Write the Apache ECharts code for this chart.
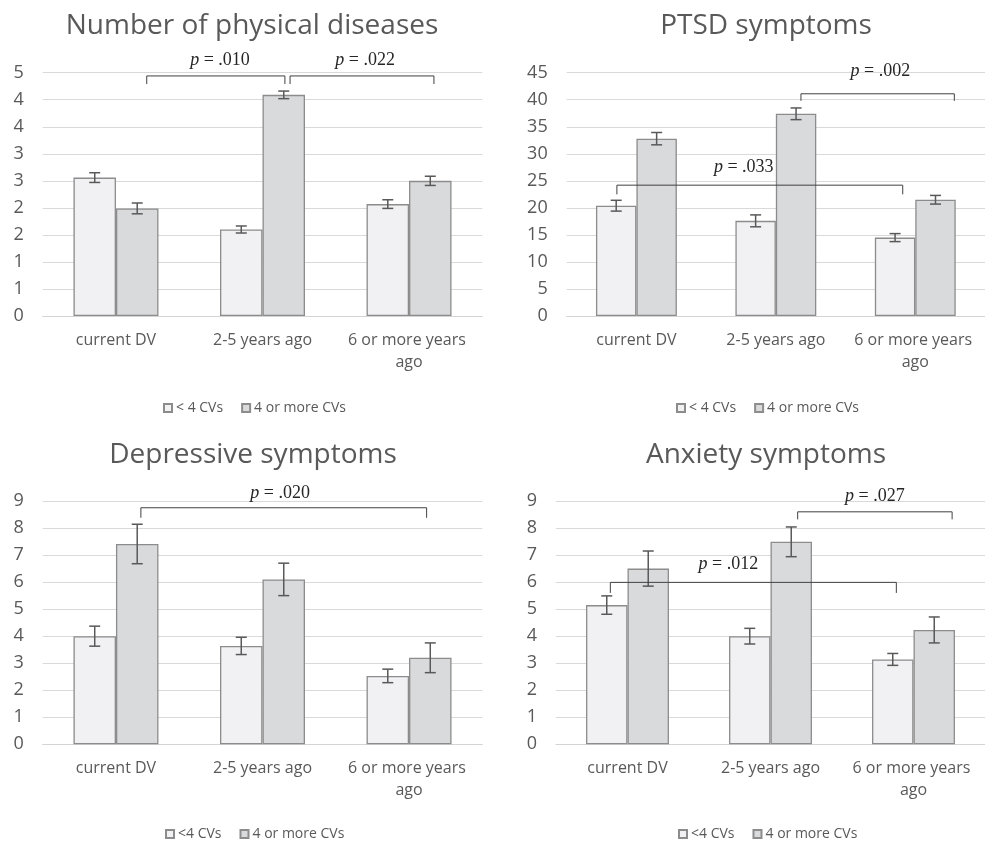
<!DOCTYPE html>
<html>
<head>
<meta charset="utf-8">
<script src="https://cdn.jsdelivr.net/npm/echarts@6/dist/echarts.min.js"></script>
<style>
html,body{margin:0;padding:0;background:#fff;}
#c{width:985px;height:843px;}
</style>
</head>
<body>
<div id="c"></div>
<script>
// ---- data ----
const categories = ['current DV', '2-5 years ago', '6 or more years ago'];

const physLow = [2.56, 1.60, 2.07];
const physLowErr = [0.09, 0.065, 0.08];
const physHigh = [1.99, 4.09, 2.50];
const physHighErr = [0.10, 0.07, 0.085];
const physTicks = ['0', '1', '1', '2', '2', '3', '3', '4', '4', '5'];

const ptsdLow = [20.4, 17.6, 14.5];
const ptsdLowErr = [1.0, 1.1, 0.74];
const ptsdHigh = [32.8, 37.4, 21.5];
const ptsdHighErr = [1.14, 1.08, 0.8];

const depLow = [4.0, 3.64, 2.53];
const depLowErr = [0.37, 0.32, 0.25];
const depHigh = [7.41, 6.1, 3.2];
const depHighErr = [0.73, 0.6, 0.55];

const anxLow = [5.15, 4.0, 3.14];
const anxLowErr = [0.34, 0.29, 0.22];
const anxHigh = [6.5, 7.49, 4.23];
const anxHighErr = [0.65, 0.55, 0.48];

// brackets: [x1, x2, yTop, yEnd, pText, textX, textY]  (x in category units)
const physBrackets = [[0.21, 1.153, 4.44, 4.29, '.010', 0.71, 4.73], [1.188, 2.17, 4.44, 4.29, '.022', 1.70, 4.73]];
const ptsdBrackets = [[1.18, 2.28, 41.1, 39.8, '.002', 1.75, 45.2], [-0.14, 1.91, 24.2, 22.5, '.033', 0.77, 27.6]];
const depBrackets = [[0.17, 2.12, 8.75, 8.38, '.020', 1.12, 9.3]];
const anxBrackets = [[1.19, 2.27, 8.6, 8.32, '.027', 1.73, 9.18], [-0.12, 1.88, 5.99, 5.6, '.012', 0.705, 6.66]];

// ---- layout ----
const panels = [
  {title: 'Number of physical diseases', tx: 252, ty: 12, grid: {left: 42.7, top: 72.7, width: 439.6, height: 243.3},
   max: 4.5, interval: 0.5, ticks: physTicks, low: physLow, lowErr: physLowErr, high: physHigh, highErr: physHighErr,
   lowName: '< 4 CVs', brackets: physBrackets, legendLeft: 163, legendTop: 401},
  {title: 'PTSD symptoms', tx: 766, ty: 12, grid: {left: 566.7, top: 72.7, width: 418.3, height: 243.3},
   max: 45, interval: 5, ticks: null, low: ptsdLow, lowErr: ptsdLowErr, high: ptsdHigh, highErr: ptsdHighErr,
   lowName: '< 4 CVs', brackets: ptsdBrackets, legendLeft: 676, legendTop: 401},
  {title: 'Depressive symptoms', tx: 253, ty: 441, grid: {left: 42.7, top: 501, width: 439.6, height: 243.3},
   max: 9, interval: 1, ticks: null, low: depLow, lowErr: depLowErr, high: depHigh, highErr: depHighErr,
   lowName: '<4 CVs', brackets: depBrackets, legendLeft: 165, legendTop: 827},
  {title: 'Anxiety symptoms', tx: 766, ty: 441, grid: {left: 556, top: 501, width: 429, height: 243.3},
   max: 9, interval: 1, ticks: null, low: anxLow, lowErr: anxLowErr, high: anxHigh, highErr: anxHighErr,
   lowName: '<4 CVs', brackets: anxBrackets, legendLeft: 678, legendTop: 827}
];

const LOW_FILL = '#f1f1f3', HIGH_FILL = '#d9dadc', BORDER = '#8c8c8c';
const TEXT = '#595959';
const OFF = 0.145;

function errRender(params, api) {
  const x = api.value(0), m = api.value(1), e = api.value(2);
  const top = api.coord([x, m + e]);
  const bot = api.coord([x, m - e]);
  const hw = 5.5;
  const st = {stroke: '#595959', lineWidth: 1.5, fill: null};
  return {type: 'group', children: [
    {type: 'line', shape: {x1: top[0], y1: top[1], x2: bot[0], y2: bot[1]}, style: st},
    {type: 'line', shape: {x1: top[0] - hw, y1: top[1], x2: top[0] + hw, y2: top[1]}, style: st},
    {type: 'line', shape: {x1: bot[0] - hw, y1: bot[1], x2: bot[0] + hw, y2: bot[1]}, style: st}
  ]};
}

const bracketText = {};
function bracketRender(params, api) {
  const x1 = api.value(0), x2 = api.value(1), y = api.value(2), ye = api.value(3);
  const a = api.coord([x1, ye]), b = api.coord([x1, y]), c = api.coord([x2, y]), d = api.coord([x2, ye]);
  const t = api.coord([api.value(5), api.value(6)]);
  return {type: 'group', children: [
    {type: 'polyline', shape: {points: [a, b, c, d]}, style: {stroke: '#404040', lineWidth: 1, fill: null}},
    {type: 'text', x: t[0], y: t[1], style: {
      text: '{i|p} = ' + bracketText[params.seriesIndex][params.dataIndex],
      align: 'center', verticalAlign: 'middle',
      font: '18px "Liberation Serif"', fill: '#262626',
      rich: {i: {fontStyle: 'italic', fontFamily: 'Liberation Serif', fontSize: 18, fill: '#262626'}}
    }}
  ]};
}

const option = {animation: false, title: [], legend: [], grid: [], xAxis: [], yAxis: [], series: []};

panels.forEach((p, k) => {
  option.title.push({text: p.title, left: p.tx, top: p.ty, textAlign: 'center', padding: 0,
    textStyle: {fontFamily: 'Open Sans', fontSize: 28, fontWeight: 'normal', color: TEXT}});
  option.grid.push(Object.assign({}, p.grid));
  const catW = p.grid.width / 3;
  option.xAxis.push({type: 'category', gridIndex: k, data: categories,
    axisTick: {show: false},
    axisLine: {lineStyle: {color: '#d4d4d4', width: 1.2}},
    axisLabel: {interval: 0, color: TEXT, fontFamily: 'Open Sans', fontSize: 16, margin: 13,
      lineHeight: 22, width: catW - 8, overflow: 'break'}});
  option.xAxis.push({type: 'value', gridIndex: k, min: -0.5, max: 2.5, show: false});
  option.yAxis.push({type: 'value', gridIndex: k, min: 0, max: p.max, interval: p.interval,
    axisLine: {show: false}, axisTick: {show: false},
    splitLine: {lineStyle: {color: '#d9d9d9', width: 1.2}},
    axisLabel: {color: TEXT, fontFamily: 'Open Sans', fontSize: 18, margin: 19,
      formatter: (v) => p.ticks ? p.ticks[Math.round(v / p.interval)] : String(v)}});
  option.legend.push({left: p.legendLeft, top: p.legendTop, padding: 0, selectedMode: false,
    data: [p.lowName, '4 or more CVs'], icon: 'rect', itemWidth: 8, itemHeight: 8, itemGap: 18,
    textStyle: {color: TEXT, fontFamily: 'Open Sans', fontSize: 14, padding: [0, 0, 0, -1]}});

  option.series.push({type: 'bar', name: p.lowName, xAxisIndex: 2 * k, yAxisIndex: k, data: p.low,
    barGap: '0%', barCategoryGap: '42%',
    itemStyle: {color: LOW_FILL, borderColor: BORDER, borderWidth: 1.3}});
  option.series.push({type: 'bar', name: '4 or more CVs', xAxisIndex: 2 * k, yAxisIndex: k, data: p.high,
    barGap: '0%', barCategoryGap: '42%',
    itemStyle: {color: HIGH_FILL, borderColor: BORDER, borderWidth: 1.3}});
  option.series.push({type: 'custom', xAxisIndex: 2 * k + 1, yAxisIndex: k, z: 5, clip: false,
    renderItem: errRender, data: p.low.map((v, i) => [i - OFF, v, p.lowErr[i]])});
  option.series.push({type: 'custom', xAxisIndex: 2 * k + 1, yAxisIndex: k, z: 5, clip: false,
    renderItem: errRender, data: p.high.map((v, i) => [i + OFF, v, p.highErr[i]])});
  bracketText[option.series.length] = p.brackets.map(b => b[4]);
  option.series.push({type: 'custom', xAxisIndex: 2 * k + 1, yAxisIndex: k, z: 10, clip: false,
    renderItem: bracketRender,
    data: p.brackets.map(b => [b[0], b[1], b[2], b[3], 0, b[5], b[6]])});
});

const chart = echarts.init(document.getElementById('c'));
chart.setOption(option);
</script>
</body>
</html>
